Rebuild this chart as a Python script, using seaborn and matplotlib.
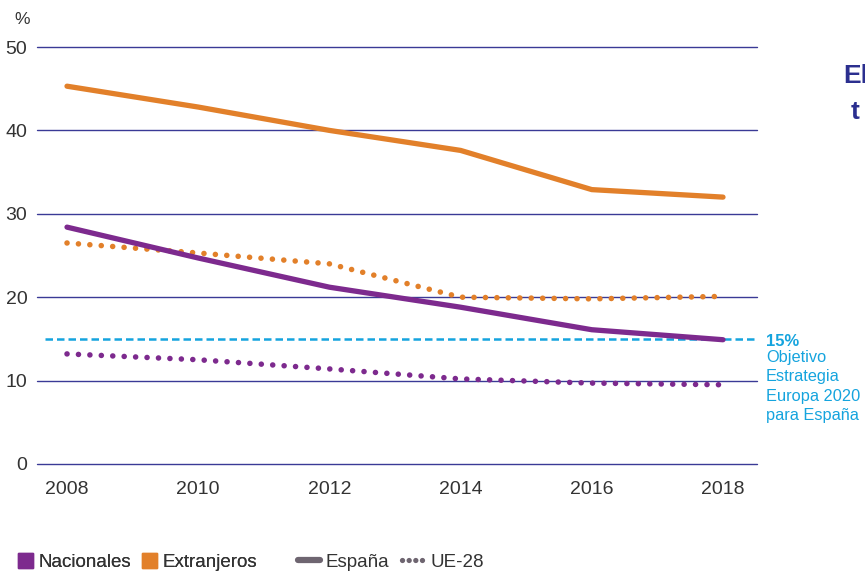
import matplotlib
matplotlib.use("Agg")
import matplotlib.pyplot as plt
import seaborn as sns
import pandas as pd
from matplotlib.lines import Line2D
from matplotlib.patches import Patch

years = [2008, 2010, 2012, 2014, 2016, 2018]
esp_nacionales = [28.4, 24.7, 21.2, 18.8, 16.1, 14.9]
esp_extranjeros = [45.3, 42.8, 40.0, 37.6, 32.9, 32.0]
ue_nacionales = [13.2, 12.5, 11.4, 10.2, 9.7, 9.5]
ue_extranjeros = [26.5, 25.3, 24.0, 20.0, 19.8, 20.1]
objetivo = 15
yticks = [0, 10, 20, 30, 40, 50]

PURPLE = "#7d2a8e"
ORANGE = "#e2802a"
NAVY = "#3a3a96"
CYAN = "#15a4de"
TXT = "#333333"

sns.set_theme(style="white")
plt.rcParams["font.family"] = ["Liberation Sans", "DejaVu Sans"]

rows = []
for name, vals, grp, reg in [
    ("esp_nac", esp_nacionales, "Nacionales", "España"),
    ("esp_ext", esp_extranjeros, "Extranjeros", "España"),
    ("ue_nac", ue_nacionales, "Nacionales", "UE-28"),
    ("ue_ext", ue_extranjeros, "Extranjeros", "UE-28"),
]:
    for y, v in zip(years, vals):
        rows.append({"serie": name, "year": y, "value": v, "grupo": grp, "region": reg})
df = pd.DataFrame(rows)

fig = plt.figure(figsize=(8.65, 5.72), dpi=100)
W, H = 865, 572
ax = fig.add_axes([37 / W, (H - 464) / H, 720 / W, (464 - 47) / H])

for yv in yticks:
    ax.axhline(yv, color=NAVY, lw=1.0, zorder=1, clip_on=False)

ax.axhline(objetivo, xmin=8 / 720, xmax=1.0, color=CYAN, lw=1.8,
           linestyle=(0, (3, 1.6)), zorder=2)

colors = {"Nacionales": PURPLE, "Extranjeros": ORANGE}
for name in ["ue_nac", "ue_ext"]:
    sub = df[df.serie == name]
    sns.lineplot(data=sub, x="year", y="value", ax=ax, color=colors[sub.grupo.iloc[0]],
                 lw=4.0, linestyle=(0, (0.01, 2.05)), dash_capstyle="round",
                 zorder=3, legend=False)
for name in ["esp_nac", "esp_ext"]:
    sub = df[df.serie == name]
    sns.lineplot(data=sub, x="year", y="value", ax=ax, color=colors[sub.grupo.iloc[0]],
                 lw=3.8, solid_capstyle="round", solid_joinstyle="round",
                 zorder=4, legend=False)

ax.set_xlim(2008 - 30 / 65.6, 2018 + 34 / 65.6)
ax.set_ylim(0, 50)
ax.set_xticks(years)
ax.set_xticklabels([str(y) for y in years])
ax.set_yticks(yticks)
ax.tick_params(axis="both", length=0, labelsize=14, colors=TXT)
ax.tick_params(axis="y", pad=7)
ax.tick_params(axis="x", pad=12)
ax.set_xlabel("")
ax.set_ylabel("")
for s in ax.spines.values():
    s.set_visible(False)

fig.text(22 / W, 1 - 20 / H, "%", fontsize=12.5, color=TXT, ha="center", va="center")

# objective annotation
fig.text(766 / W, 1 - 342 / H, "15%", fontsize=12, color=CYAN, fontweight="bold",
         ha="left", va="center")
fig.text(766 / W, 1 - 350 / H, "Objetivo\nEstrategia\nEuropa 2020\npara España",
         fontsize=11.8, color=CYAN, ha="left", va="top", linespacing=1.36)

# cut-off title (partly outside the figure in the reference)
fig.text(843 / W, 1 - 76 / H, "El", fontsize=19, color="#2b2f8f", fontweight="bold",
         ha="left", va="center")
fig.text(851 / W, 1 - 112 / H, "t", fontsize=19, color="#2b2f8f", fontweight="bold",
         ha="left", va="center")

h1 = [Patch(color=PURPLE, label="Nacionales"), Patch(color=ORANGE, label="Extranjeros")]
leg1 = fig.legend(handles=h1, loc="center left", bbox_to_anchor=(10 / W, 1 - 562 / H),
                  ncol=2, frameon=False, fontsize=13.5, handlelength=0.8, handleheight=0.8,
                  handletextpad=0.3, columnspacing=0.6, labelcolor=TXT, borderaxespad=0)
h2 = [Line2D([], [], color="#6e6570", lw=4.5, solid_capstyle="round", label="España"),
      Line2D([], [], color="#6e6570", lw=3.8, linestyle=(0, (0.01, 1.25)),
             dash_capstyle="round", label="UE-28")]
leg2 = fig.legend(handles=h2, loc="center left", bbox_to_anchor=(290 / W, 1 - 562 / H),
                  ncol=2, frameon=False, fontsize=13.5, handlelength=1.2,
                  handletextpad=0.3, columnspacing=0.7, labelcolor=TXT, borderaxespad=0)
fig.add_artist(leg1)

fig.savefig("out.png", dpi=100)
